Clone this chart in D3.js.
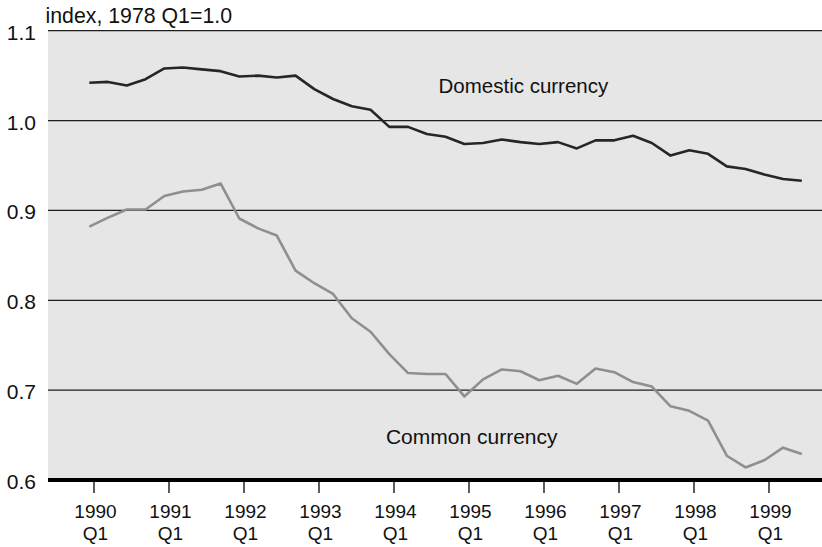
<!DOCTYPE html>
<html>
<head>
<meta charset="utf-8">
<script src="https://cdn.jsdelivr.net/npm/d3@7"></script>
<style>
    body { margin: 0; background: #ffffff; }
    svg text { font-family: "Liberation Sans", Arial, Helvetica, sans-serif; fill: #111111; }
</style>
</head>
<body>
<svg id="chart"></svg>
<script>
// years on the x axis, one tick at each Q1
const years = [1990, 1991, 1992, 1993, 1994, 1995, 1996, 1997, 1998, 1999];

// quarterly index, 1990 Q1 to 1999 Q3
const domestic = [
    1.042, 1.043, 1.039, 1.046,
    1.058, 1.059, 1.057, 1.055,
    1.049, 1.050, 1.048, 1.050,
    1.035, 1.024, 1.016, 1.012,
    0.993, 0.993, 0.985, 0.982,
    0.974, 0.975, 0.979, 0.976,
    0.974, 0.976, 0.969, 0.978,
    0.978, 0.983, 0.975, 0.961,
    0.967, 0.963, 0.949, 0.946,
    0.940, 0.935, 0.933
];
const common = [
    0.882, 0.892, 0.901, 0.901,
    0.916, 0.921, 0.923, 0.930,
    0.891, 0.880, 0.872, 0.833,
    0.819, 0.807, 0.780, 0.765,
    0.740, 0.719, 0.718, 0.718,
    0.693, 0.712, 0.723, 0.721,
    0.711, 0.716, 0.707, 0.724,
    0.720, 0.709, 0.704, 0.682,
    0.677, 0.666, 0.627, 0.614,
    0.622, 0.636, 0.629
];

// y axis ticks
const yTicks = [0.6, 0.7, 0.8, 0.9, 1.0, 1.1];

const width = 822;
const height = 547;

// plot area
const plot = { left: 48, right: 822, top: 30.7, bottom: 480 };

const svg = d3.select("#chart")
    .attr("width", width)
    .attr("height", height);

// x: quarter index, y: index value
const x = d3.scaleLinear()
    .domain([0, domestic.length - 1])
    .range([89.3, 801.8]);

const y = d3.scaleLinear()
    .domain([0.6, 1.1])
    .range([plot.bottom, plot.top]);

// ticks sit a quarter of a quarter to the right of the Q1 point
const tickShift = 0.25;

// grey background
svg.append("rect")
    .attr("x", plot.left)
    .attr("y", plot.top)
    .attr("width", plot.right - plot.left)
    .attr("height", plot.bottom - plot.top)
    .attr("fill", "#e6e6e6");

// horizontal grid lines
svg.selectAll(".grid")
    .data(yTicks.filter(function (d) { return d > 0.6; }))
    .enter().append("line")
    .attr("class", "grid")
    .attr("x1", plot.left)
    .attr("x2", plot.right)
    .attr("y1", function (d) { return y(d); })
    .attr("y2", function (d) { return y(d); })
    .attr("stroke", "#1e1e1e")
    .attr("stroke-width", 1.3);

// y tick labels
svg.selectAll(".ylabel")
    .data(yTicks)
    .enter().append("text")
    .attr("class", "ylabel")
    .attr("x", 36)
    .attr("y", function (d) { return y(d) + 9; })
    .attr("text-anchor", "end")
    .style("font-size", "21px")
    .text(function (d) { return d.toFixed(1); });

// unit label
svg.append("text")
    .attr("x", 45.5)
    .attr("y", 23)
    .style("font-size", "21.3px")
    .text("index, 1978 Q1=1.0");

// lines
const line = d3.line()
    .x(function (d, i) { return x(i); })
    .y(function (d) { return y(d); });

svg.append("path")
    .datum(common)
    .attr("d", line)
    .attr("fill", "none")
    .attr("stroke", "#8f8f8f")
    .attr("stroke-width", 2.6)
    .attr("stroke-linejoin", "round");

svg.append("path")
    .datum(domestic)
    .attr("d", line)
    .attr("fill", "none")
    .attr("stroke", "#262626")
    .attr("stroke-width", 2.6)
    .attr("stroke-linejoin", "round");

// series labels
svg.append("text")
    .attr("x", 438.5)
    .attr("y", 93)
    .style("font-size", "20.5px")
    .text("Domestic currency");

svg.append("text")
    .attr("x", 557.5)
    .attr("y", 444)
    .attr("text-anchor", "end")
    .style("font-size", "21px")
    .text("Common currency");

// x axis: thick base line
svg.append("line")
    .attr("x1", plot.left)
    .attr("x2", plot.right)
    .attr("y1", plot.bottom)
    .attr("y2", plot.bottom)
    .attr("stroke", "#000000")
    .attr("stroke-width", 4.2);

// x ticks
svg.selectAll(".xtick")
    .data(years)
    .enter().append("line")
    .attr("class", "xtick")
    .attr("x1", function (d) { return x((d - years[0]) * 4 + tickShift); })
    .attr("x2", function (d) { return x((d - years[0]) * 4 + tickShift); })
    .attr("y1", plot.bottom + 2)
    .attr("y2", 493)
    .attr("stroke", "#333333")
    .attr("stroke-width", 1.6);

// x tick labels on two lines
const xLabels = svg.selectAll(".xlabel")
    .data(years)
    .enter().append("text")
    .attr("class", "xlabel")
    .attr("text-anchor", "middle")
    .style("font-size", "19px");

xLabels.append("tspan")
    .attr("x", function (d) { return x((d - years[0]) * 4 + tickShift) + 1.5; })
    .attr("y", 518)
    .text(function (d) { return d; });

xLabels.append("tspan")
    .attr("x", function (d) { return x((d - years[0]) * 4 + tickShift) + 1.5; })
    .attr("y", 540)
    .text("Q1");
</script>
</body>
</html>
